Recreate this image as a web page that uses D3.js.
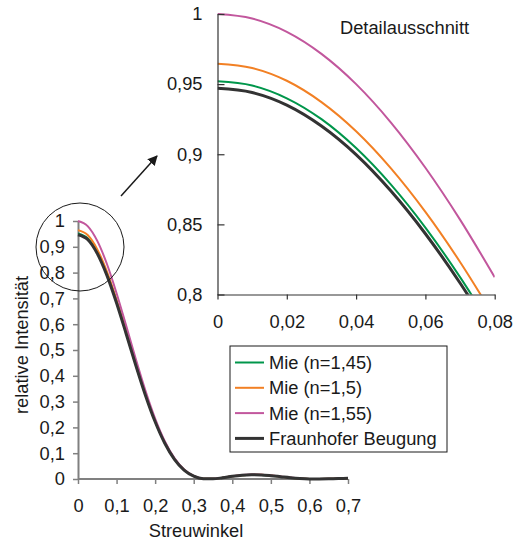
<!DOCTYPE html>
<html>
<head>
<meta charset="utf-8">
<script src="https://cdn.jsdelivr.net/npm/d3@7"></script>
<style>
  body { margin: 0; background: #fff; }
  svg text { font-family: "Liberation Sans", Arial, sans-serif; fill: #1a1a1a; }
</style>
</head>
<body>
<div id="chart"></div>
<script>
// main chart: scattering angle vs relative intensity
var angle = [0, 0.025, 0.05, 0.075, 0.1, 0.125, 0.15, 0.175, 0.2, 0.225, 0.25, 0.275, 0.3, 0.325,
  0.35, 0.375, 0.4, 0.425, 0.45, 0.475, 0.5, 0.525, 0.55, 0.575, 0.6, 0.625, 0.65, 0.675, 0.7]
var mie145 = [0.952, 0.9332, 0.8785, 0.7933, 0.6857, 0.5652, 0.4420, 0.3254, 0.2229, 0.1393, 0.0769, 0.0350, 0.0111, 0.0012,
  0.0006, 0.0048, 0.0104, 0.0147, 0.0165, 0.0158, 0.0130, 0.0091, 0.0052, 0.0022, 0.0004, 0.0000, 0.0006, 0.0018, 0.0030]
var mie150 = [0.9646, 0.9455, 0.8901, 0.8038, 0.6947, 0.5727, 0.4478, 0.3297, 0.2258, 0.1412, 0.0779, 0.0355, 0.0113, 0.0012,
  0.0006, 0.0049, 0.0106, 0.0149, 0.0167, 0.0160, 0.0132, 0.0092, 0.0053, 0.0022, 0.0004, 0.0000, 0.0006, 0.0018, 0.0030]
var mie155 = [1, 0.9802, 0.9228, 0.8333, 0.7202, 0.5937, 0.4643, 0.3418, 0.2341, 0.1463, 0.0807, 0.0368, 0.0117, 0.0013,
  0.0006, 0.0051, 0.0110, 0.0155, 0.0173, 0.0166, 0.0136, 0.0096, 0.0054, 0.0023, 0.0004, 0.0000, 0.0006, 0.0019, 0.0031]
var fraunhofer = [0.947, 0.9283, 0.8739, 0.7892, 0.6821, 0.5622, 0.4397, 0.3237, 0.2217, 0.1386, 0.0765, 0.0348, 0.0111, 0.0012,
  0.0006, 0.0048, 0.0104, 0.0147, 0.0164, 0.0157, 0.0129, 0.0091, 0.0052, 0.0021, 0.0004, 0.0000, 0.0006, 0.0018, 0.0030]

// detail (zoomed) part
var angleDetail = [0, 0.01, 0.02, 0.03, 0.04, 0.05, 0.06, 0.07, 0.08]
var mie145Detail = [0.9520, 0.9490, 0.9399, 0.9250, 0.9044, 0.8785, 0.8477, 0.8124, 0.7733]
var mie150Detail = [0.9646, 0.9615, 0.9524, 0.9372, 0.9164, 0.8901, 0.8589, 0.8232, 0.7835]
var mie155Detail = [1.0, 0.9968, 0.9873, 0.9716, 0.9500, 0.9228, 0.8904, 0.8534, 0.8123]
var fraunhoferDetail = [0.9470, 0.9440, 0.9350, 0.9201, 0.8997, 0.8739, 0.8433, 0.8082, 0.7692]

var seriesNames = ["Mie (n=1,45)", "Mie (n=1,5)", "Mie (n=1,55)", "Fraunhofer Beugung"]
var seriesColors = ["#00964b", "#f28024", "#c2579d", "#333333"]
var seriesWidths = [2, 2, 2, 3]

var mainXTicks = [0, 0.1, 0.2, 0.3, 0.4, 0.5, 0.6, 0.7]
var mainYTicks = [0, 0.1, 0.2, 0.3, 0.4, 0.5, 0.6, 0.7, 0.8, 0.9, 1]
var detailXTicks = [0, 0.02, 0.04, 0.06, 0.08]
var detailYTicks = [0.8, 0.85, 0.9, 0.95, 1]

var WIDTH = 513, HEIGHT = 543, FONT = 18.3

var de = d3.formatLocale({decimal: ",", thousands: ".", grouping: [3], currency: ["", " €"]})
var fmt = de.format("~g")

var svg = d3.select("#chart").append("svg")
  .attr("width", WIDTH)
  .attr("height", HEIGHT)

// ---------- main chart ----------
var x = d3.scaleLinear().domain([0, 0.7]).range([78, 348])
var y = d3.scaleLinear().domain([0, 1]).range([479, 221])

var gx = svg.append("g")
  .attr("transform", `translate(0, ${y(0)})`)
  .call(d3.axisBottom(x).tickValues(mainXTicks).tickFormat(fmt).tickSize(5).tickSizeOuter(0).tickPadding(15))
var gy = svg.append("g")
  .attr("transform", `translate(${x(0)}, 0)`)
  .call(d3.axisLeft(y).tickValues(mainYTicks).tickFormat(fmt).tickSize(5).tickSizeOuter(0).tickPadding(8))

;[gx, gy].forEach(function(g){
  g.select(".domain").attr("stroke", "#808080").attr("stroke-width", 2)
  g.selectAll(".tick line").attr("stroke", "#808080").attr("stroke-width", 1.5)
  g.selectAll("text").style("font-size", FONT + "px").attr("fill", "#1a1a1a")
})
gx.select(".domain").attr("d", `M${x(0)},0H${x(0.7)}`)

svg.append("text")
  .attr("transform", `translate(21, 345) rotate(-90)`)
  .attr("text-anchor", "middle")
  .attr("dominant-baseline", "central")
  .style("font-size", FONT + "px")
  .text("relative Intensität")

svg.append("text")
  .attr("x", 196)
  .attr("y", 530)
  .attr("text-anchor", "middle")
  .attr("dominant-baseline", "central")
  .style("font-size", FONT + "px")
  .text("Streuwinkel")

var mainSeries = [mie145, mie150, mie155, fraunhofer]
var line = d3.line()
  .x(function(d){ return x(d[0]) })
  .y(function(d){ return y(d[1]) })
  .curve(d3.curveMonotoneX)

mainSeries.forEach(function(s, i){
  svg.append("path")
    .datum(angle.map(function(a, j){ return [a, s[j]] }))
    .attr("fill", "none")
    .attr("stroke", seriesColors[i])
    .attr("stroke-width", seriesWidths[i])
    .attr("stroke-linejoin", "round")
    .attr("d", line)
})

// circle marking the zoomed region
svg.append("ellipse")
  .attr("cx", 80).attr("cy", 247)
  .attr("rx", 44).attr("ry", 44)
  .attr("fill", "none")
  .attr("stroke", "#1a1a1a")
  .attr("stroke-width", 1)

// arrow
svg.append("defs").append("marker")
  .attr("id", "arrowhead")
  .attr("viewBox", "0 0 10 10")
  .attr("refX", 9).attr("refY", 5)
  .attr("markerWidth", 10).attr("markerHeight", 10)
  .attr("markerUnits", "userSpaceOnUse")
  .attr("orient", "auto")
  .append("path")
  .attr("d", "M0,0L10,5L0,10z")
  .attr("fill", "#1a1a1a")

svg.append("line")
  .attr("x1", 121).attr("y1", 196)
  .attr("x2", 157).attr("y2", 156)
  .attr("stroke", "#1a1a1a")
  .attr("stroke-width", 1.5)
  .attr("marker-end", "url(#arrowhead)")

// ---------- detail chart ----------
var xd = d3.scaleLinear().domain([0, 0.08]).range([217.5, 494.7])
var yd = d3.scaleLinear().domain([0.8, 1]).range([294.5, 14])

svg.append("clipPath").attr("id", "detail-clip")
  .append("rect")
  .attr("x", xd(0)).attr("y", 0)
  .attr("width", xd(0.08) - xd(0)).attr("height", yd(0.8))

var detailSeries = [mie145Detail, mie150Detail, mie155Detail, fraunhoferDetail]
var lineD = d3.line()
  .x(function(d){ return xd(d[0]) })
  .y(function(d){ return yd(d[1]) })
  .curve(d3.curveMonotoneX)

detailSeries.forEach(function(s, i){
  svg.append("path")
    .datum(angleDetail.map(function(a, j){ return [a, s[j]] }))
    .attr("clip-path", "url(#detail-clip)")
    .attr("fill", "none")
    .attr("stroke", seriesColors[i])
    .attr("stroke-width", seriesWidths[i])
    .attr("d", lineD)
})

var gxd = svg.append("g")
  .attr("transform", `translate(0, ${yd(0.8)})`)
  .call(d3.axisBottom(xd).tickValues(detailXTicks).tickFormat(fmt).tickSize(5).tickSizeOuter(0).tickPadding(16))
var gyd = svg.append("g")
  .attr("transform", `translate(${xd(0)}, 0)`)
  .call(d3.axisLeft(yd).tickValues(detailYTicks).tickFormat(fmt).tickSize(-7).tickSizeOuter(0).tickPadding(15))

;[gxd, gyd].forEach(function(g){
  g.select(".domain").attr("stroke", "#333").attr("stroke-width", 1.2)
  g.selectAll(".tick line").attr("stroke", "#333").attr("stroke-width", 1.2)
  g.selectAll("text").style("font-size", FONT + "px").attr("fill", "#1a1a1a")
})

svg.append("text")
  .attr("x", 340)
  .attr("y", 27)
  .attr("dominant-baseline", "central")
  .style("font-size", FONT + "px")
  .text("Detailausschnitt")

// ---------- legend ----------
var legend = svg.append("g").attr("transform", "translate(230, 346)")
legend.append("rect")
  .attr("width", 217).attr("height", 106)
  .attr("fill", "#fff")
  .attr("stroke", "#1a1a1a")
  .attr("stroke-width", 1)

seriesNames.forEach(function(name, i){
  var ly = 16.5 + i * 25.3
  legend.append("line")
    .attr("x1", 5).attr("x2", 34)
    .attr("y1", ly).attr("y2", ly)
    .attr("stroke", seriesColors[i])
    .attr("stroke-width", seriesWidths[i])
  legend.append("text")
    .attr("x", 39).attr("y", ly)
    .attr("dominant-baseline", "central")
    .style("font-size", FONT + "px")
    .text(name)
})
</script>
</body>
</html>
